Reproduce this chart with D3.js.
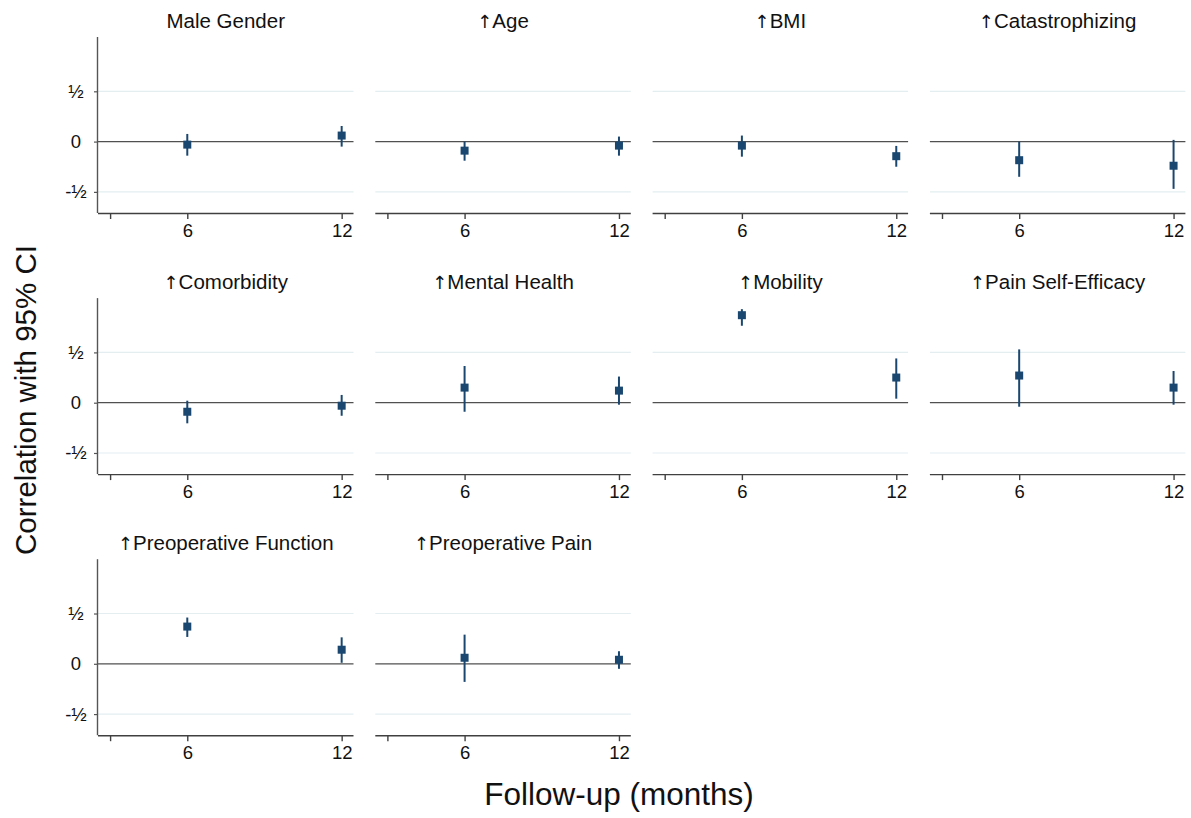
<!DOCTYPE html>
<html>
<head>
<meta charset="utf-8">
<script src="https://cdn.jsdelivr.net/npm/d3@7"></script>
<style>
  html, body { margin: 0; padding: 0; background: #fff; }
  svg { display: block; font-family: "Liberation Sans", Arial, Helvetica, sans-serif; }
</style>
</head>
<body>
<svg id="chart" width="1191" height="818"></svg>
<script>
// Predictors shown, one panel each; "up" marks a higher value of the predictor
const predictors = [
  "Male Gender", "Age", "BMI", "Catastrophizing",
  "Comorbidity", "Mental Health", "Mobility", "Pain Self-Efficacy",
  "Preoperative Function", "Preoperative Pain"
];
const upArrow = [false, true, true, true, true, true, true, true, true, true];
// Follow-up times (months)
const followUp = [6, 12];
// Correlation estimates at [6, 12] months
const estimates = [
  [-0.03, 0.06], [-0.09, -0.04], [-0.04, -0.145], [-0.185, -0.24],
  [-0.09, -0.03], [0.15, 0.12], [0.87, 0.25], [0.27, 0.15],
  [0.37, 0.14], [0.06, 0.04]
];
// Lower 95% CI bounds at [6, 12] months
const lowerCI = [
  [-0.14, -0.05], [-0.19, -0.14], [-0.15, -0.25], [-0.35, -0.47],
  [-0.205, -0.13], [-0.09, -0.02], [0.765, 0.04], [-0.04, -0.02],
  [0.267, 0.01], [-0.18, -0.05]
];
// Upper 95% CI bounds at [6, 12] months
const upperCI = [
  [0.076, 0.155], [0.0, 0.05], [0.06, -0.043], [0.0, 0.017],
  [0.02, 0.077], [0.365, 0.26], [0.93, 0.44], [0.53, 0.315],
  [0.46, 0.263], [0.29, 0.125]
];
// Axis ticks and labels
const yTicks = [-0.5, 0, 0.5];
const yTickLabels = ["-\u00bd", "0", "\u00bd"];
const xTicks = [3, 6, 12];
const xTickLabels = ["", "6", "12"];

const svg = d3.select("#chart");
const navy = "#1a476f";
const nCols = 4;
const colStep = 277.3, rowStep = 261.1;
const left0 = 98, top0 = 37;
const pw = 255.5, ph = 176;

const x = d3.scaleLinear().domain([2.53, 12.46]).range([0, pw]);
const y = d3.scaleLinear().domain([-0.71, 1.04]).range([ph, 0]);

predictors.forEach((name, i) => {
  const col = i % nCols, row = Math.floor(i / nCols);
  const g = svg.append("g")
    .attr("transform", `translate(${left0 + col * colStep},${top0 + row * rowStep})`);

  // light gridlines at +/- one half
  g.selectAll("line.grid").data(yTicks.filter(t => t !== 0)).join("line")
    .attr("class", "grid")
    .attr("x1", 0).attr("x2", pw)
    .attr("y1", d => y(d)).attr("y2", d => y(d))
    .attr("stroke", "#e4eef1").attr("stroke-width", 1.2);

  // reference line at zero
  g.append("line")
    .attr("x1", 0).attr("x2", pw)
    .attr("y1", y(0)).attr("y2", y(0))
    .attr("stroke", "#505050").attr("stroke-width", 1.2);

  // x axis
  const xAxis = d3.axisBottom(x).tickValues(xTicks)
    .tickFormat((d, k) => xTickLabels[k]).tickSize(6).tickPadding(5);
  const xa = g.append("g").attr("transform", `translate(0,${ph})`).call(xAxis);
  xa.select(".domain").attr("d", `M0,0.5H${pw}`).attr("stroke", "#404040").attr("stroke-width", 1.4);
  xa.selectAll(".tick line").attr("stroke", "#404040").attr("stroke-width", 1.4);
  xa.selectAll(".tick text").attr("font-size", 18.5).attr("fill", "#111")
    .attr("font-family", "Liberation Sans, Arial, sans-serif");

  // y axis only on the first column
  if (col === 0) {
    const yAxis = d3.axisLeft(y).tickValues(yTicks)
      .tickFormat((d, k) => yTickLabels[k]).tickSize(4).tickPadding(0);
    const ya = g.append("g").call(yAxis);
    ya.select(".domain").attr("d", `M-0.5,0V${ph}`).attr("stroke", "#555").attr("stroke-width", 1.4);
    ya.selectAll(".tick line").attr("stroke", "#555").attr("stroke-width", 1.2);
    ya.selectAll(".tick text")
      .attr("x", -22).attr("text-anchor", "middle")
      .attr("font-size", 18.5).attr("fill", "#111")
      .attr("font-family", "Liberation Sans, Arial, sans-serif");
  }

  // panel title
  const t = g.append("text")
    .attr("x", pw / 2).attr("y", -9)
    .attr("text-anchor", "middle")
    .attr("font-size", 20.5).attr("fill", "#111");
  if (upArrow[i]) {
    t.append("tspan")
      .attr("font-family", "DejaVu Sans, sans-serif")
      .attr("font-size", 18).attr("dx", 0)
      .text("\u2191");
  }
  t.append("tspan").text(name);

  const pts = followUp.map((m, k) => ({
    m, est: estimates[i][k], lo: lowerCI[i][k], hi: upperCI[i][k]
  }));

  // confidence intervals
  g.selectAll("line.ci").data(pts).join("line")
    .attr("class", "ci")
    .attr("x1", d => x(d.m)).attr("x2", d => x(d.m))
    .attr("y1", d => y(d.lo)).attr("y2", d => y(d.hi))
    .attr("stroke", navy).attr("stroke-width", 2);

  // point estimates
  const s = 8;
  g.selectAll("rect.est").data(pts).join("rect")
    .attr("class", "est")
    .attr("x", d => x(d.m) - s / 2).attr("y", d => y(d.est) - s / 2)
    .attr("width", s).attr("height", s)
    .attr("fill", navy);
});

// axis titles
svg.append("text")
  .attr("transform", "translate(36,400) rotate(-90)")
  .attr("text-anchor", "middle")
  .attr("font-size", 29.5).attr("fill", "#111")
  .text("Correlation with 95% CI");

svg.append("text")
  .attr("x", 619).attr("y", 805)
  .attr("text-anchor", "middle")
  .attr("font-size", 31.5).attr("fill", "#111")
  .text("Follow-up (months)");
</script>
</body>
</html>
